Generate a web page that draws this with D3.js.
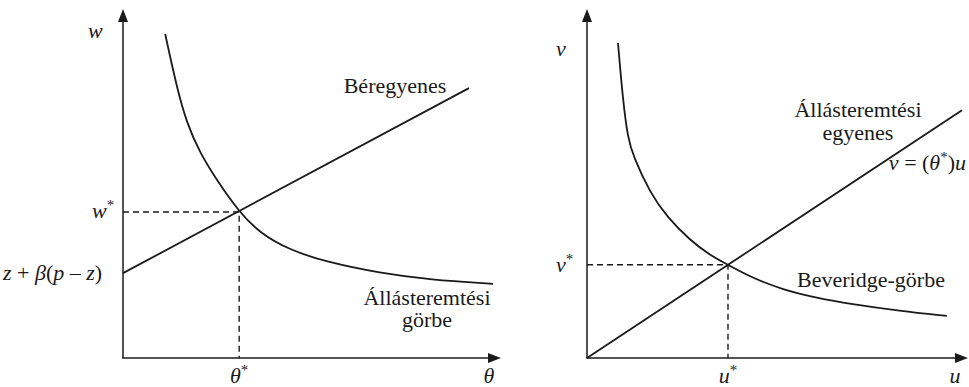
<!DOCTYPE html>
<html><head><meta charset="utf-8">
<script src="https://cdn.jsdelivr.net/npm/d3@7"></script>
</head>
<body style="margin:0">
<svg id="c" width="969" height="387"></svg>
<script>
// ---- data (arbitrary model units, 0..10 on each axis) ----
const wageLine = [{x:0, y:2.54}, {x:9.35, y:8.08}];          // Béregyenes
const jobCurve = [                                              // Állásteremtési görbe
  {x:1.14,y:9.70},{x:1.45,y:8.12},{x:1.72,y:7.04},{x:2.08,y:6.14},
  {x:2.53,y:5.33},{x:3.14,y:4.37},{x:3.70,y:3.74},{x:4.51,y:3.23},
  {x:5.51,y:2.87},{x:6.95,y:2.54},{x:8.30,y:2.34},{x:10.0,y:2.22}];
const eqLeft = {x:3.14, y:4.37};

const jobLine = [{x:0, y:0}, {x:9.92, y:7.42}];               // Állásteremtési egyenes
const beveridge = [                                             // Beveridge-görbe
  {x:0.82,y:9.43},{x:0.95,y:7.72},{x:1.08,y:6.59},{x:1.22,y:6.05},
  {x:1.67,y:4.94},{x:2.12,y:4.22},{x:2.72,y:3.53},{x:3.25,y:3.08},
  {x:3.73,y:2.79},{x:4.31,y:2.43},{x:5.19,y:2.04},{x:6.08,y:1.80},
  {x:6.96,y:1.62},{x:8.28,y:1.41},{x:9.52,y:1.26}];
const eqRight = {x:3.73, y:2.79};

const svg = d3.select("#c");
const stroke = "#1a1a1a";

function arrowHead(tipX, tipY, dir){
  // small filled triangle at an axis end
  const p = dir === "up"
    ? [[tipX,tipY],[tipX-5,tipY+13],[tipX+5,tipY+13]]
    : [[tipX,tipY],[tipX-13,tipY-5],[tipX-13,tipY+5]];
  svg.append("path").attr("d", d3.line()(p) + "Z").attr("fill", stroke);
}

function panel(cfg){
  const x = d3.scaleLinear().domain([0,10]).range([cfg.x0, cfg.x1]);
  const y = d3.scaleLinear().domain([0,10]).range([358, 24]);
  const g = svg.append("g");
  g.append("line").attr("x1",x(0)).attr("y1",y(0)).attr("x2",x(0)).attr("y2",18)
    .attr("stroke",stroke).attr("stroke-width",1.5);
  g.append("line").attr("x1",x(0)-0.75).attr("y1",y(0)).attr("x2",cfg.xTip-8).attr("y2",y(0))
    .attr("stroke",stroke).attr("stroke-width",1.5);
  arrowHead(x(0), 9, "up");
  arrowHead(cfg.xTip, y(0), "right");
  const line = d3.line().x(d=>x(d.x)).y(d=>y(d.y));
  g.append("path").attr("d",line(cfg.straight)).attr("fill","none")
    .attr("stroke",stroke).attr("stroke-width",1.8);
  g.append("path").attr("d",d3.line().x(d=>x(d.x)).y(d=>y(d.y)).curve(d3.curveBasis)(cfg.curve))
    .attr("fill","none").attr("stroke",stroke).attr("stroke-width",1.8);
  const e = cfg.eq;
  g.append("path").attr("d",`M${x(0)},${y(e.y)}H${x(e.x)}V${y(0)}`).attr("fill","none")
    .attr("stroke",stroke).attr("stroke-width",1.4).attr("stroke-dasharray","6,4");
  return {x,y,g};
}

const L = panel({x0:123, x1:493, xTip:501, straight:wageLine, curve:jobCurve, eq:eqLeft});
const R = panel({x0:587, x1:965, xTip:968, straight:jobLine, curve:beveridge, eq:eqRight});

function mk(x,y,opt={}){
  return svg.append("text").attr("x",x).attr("y",y)
    .style("font-family",'"Liberation Serif"')
    .attr("font-size",opt.size||22).attr("text-anchor",opt.anchor||"start").attr("fill","#1a1a1a");
}
function txt(x,y,s,opt={}){
  const t = mk(x,y,opt);
  if(opt.italic) t.style("font-style","italic");
  return t.text(s);
}
function star(x,y,base,opt={}){
  const t = mk(x,y,opt);
  t.append("tspan").style("font-style","italic").text(base);
  t.append("tspan").attr("dy",-8).attr("font-size",15).text("*");
  return t;
}

// left panel labels
txt(88,38,"w",{italic:true});
star(92,218,"w");
{
  const t = mk(3,280);
  t.append("tspan").style("font-style","italic").text("z");
  t.append("tspan").text(" + ");
  t.append("tspan").style("font-style","italic").text("β");
  t.append("tspan").text("(");
  t.append("tspan").style("font-style","italic").text("p");
  t.append("tspan").text(" – ");
  t.append("tspan").style("font-style","italic").text("z");
  t.append("tspan").text(")");
}
star(L.x(eqLeft.x),383,"θ",{anchor:"middle"});
txt(489,383,"θ",{italic:true,anchor:"middle"});
txt(395,93,"Béregyenes",{anchor:"middle"});
txt(427,305,"Állásteremtési",{anchor:"middle"});
txt(427,327,"görbe",{anchor:"middle"});

// right panel labels
txt(556,56,"ν",{italic:true});
star(556,272,"ν");
star(R.x(eqRight.x),383,"u",{anchor:"middle"});
txt(955,383,"u",{italic:true,anchor:"middle"});
txt(858,117,"Állásteremtési",{anchor:"middle"});
txt(858,140,"egyenes",{anchor:"middle"});
{
  const t = mk(966,170,{anchor:"end"});
  t.append("tspan").style("font-style","italic").text("ν");
  t.append("tspan").text(" = (");
  t.append("tspan").style("font-style","italic").text("θ");
  t.append("tspan").attr("dy",-8).attr("font-size",15).text("*");
  t.append("tspan").attr("dy",8).text(")");
  t.append("tspan").style("font-style","italic").text("u");
}
txt(871,287,"Beveridge-görbe",{anchor:"middle"});
</script>
</body></html>
